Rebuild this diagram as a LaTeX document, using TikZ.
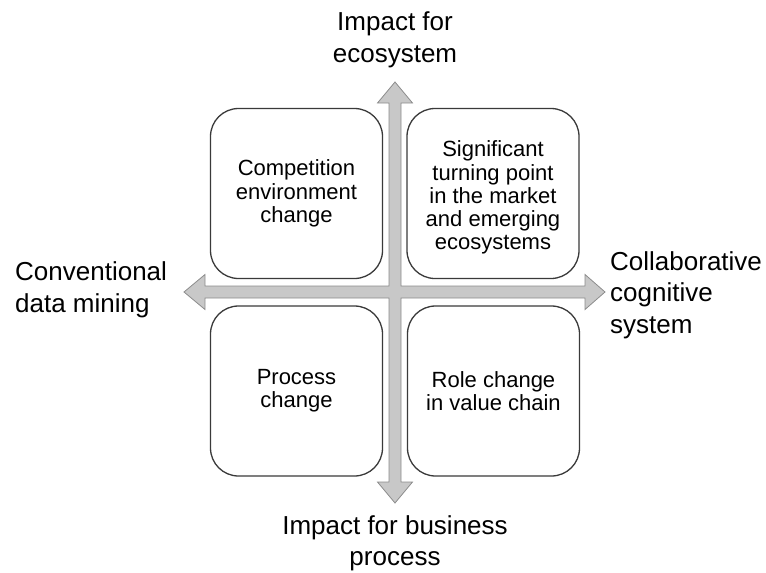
\documentclass[tikz,border=0pt]{standalone}
\usepackage{fontspec}
\setmainfont{Liberation Sans}
\definecolor{arrowfill}{HTML}{C8C8C8}
\definecolor{arrowline}{HTML}{8C8C8C}
\definecolor{boxline}{HTML}{3A3A3A}
\begin{document}
\begin{tikzpicture}[x=1pt,y=-1pt,
  quad/.style={draw=boxline, line width=1.3pt, rounded corners=28pt, fill=white,
    minimum width=172pt, minimum height=170pt, inner sep=0pt, align=center,
    font=\fontsize{22}{23.2}\selectfont},
  axislabel/.style={inner sep=0pt, font=\fontsize{26}{31.5}\selectfont},
  axisarrow/.style={fill=arrowfill, draw=arrowline, line width=0.8pt, line join=miter}]
\useasboundingbox (0,0) rectangle (766,573);
% four-headed cross arrow
\draw[axisarrow] (389,103) -- (377.5,103) -- (395,82) -- (412.5,103) -- (401,103)
  -- (401,286) -- (585,286) -- (585,274.5) -- (605,292) -- (585,309.5) -- (585,298)
  -- (401,298) -- (401,482) -- (412.5,482) -- (395,503) -- (377.5,482) -- (389,482)
  -- (389,298) -- (205,298) -- (205,309.5) -- (184,292) -- (205,274.5) -- (205,286)
  -- (389,286) -- cycle;
% quadrant boxes
\node[quad] (tl) at (296.5,193.5) {Competition\\environment\\change};
\node[quad] (tr) at (493,193.5) {\rule{0pt}{24pt}Significant\\turning point\\in the market\\and emerging\\ecosystems};
\node[quad] (bl) at (296.5,391) {Process\\change};
\node[quad] (br) at (493.5,391) {Role change\\in value chain};
% axis labels
\node[axislabel, align=center] (top) at (395,40) {Impact for\\ecosystem};
\node[axislabel, align=center] (bottom) at (395,543.5) {Impact for business\\process};
\node[axislabel, align=left, anchor=west] (left) at (15,290) {Conventional\\data mining};
\node[axislabel, align=left, anchor=west] (right) at (610,295) {Collaborative\\cognitive\\system};
\end{tikzpicture}
\end{document}
